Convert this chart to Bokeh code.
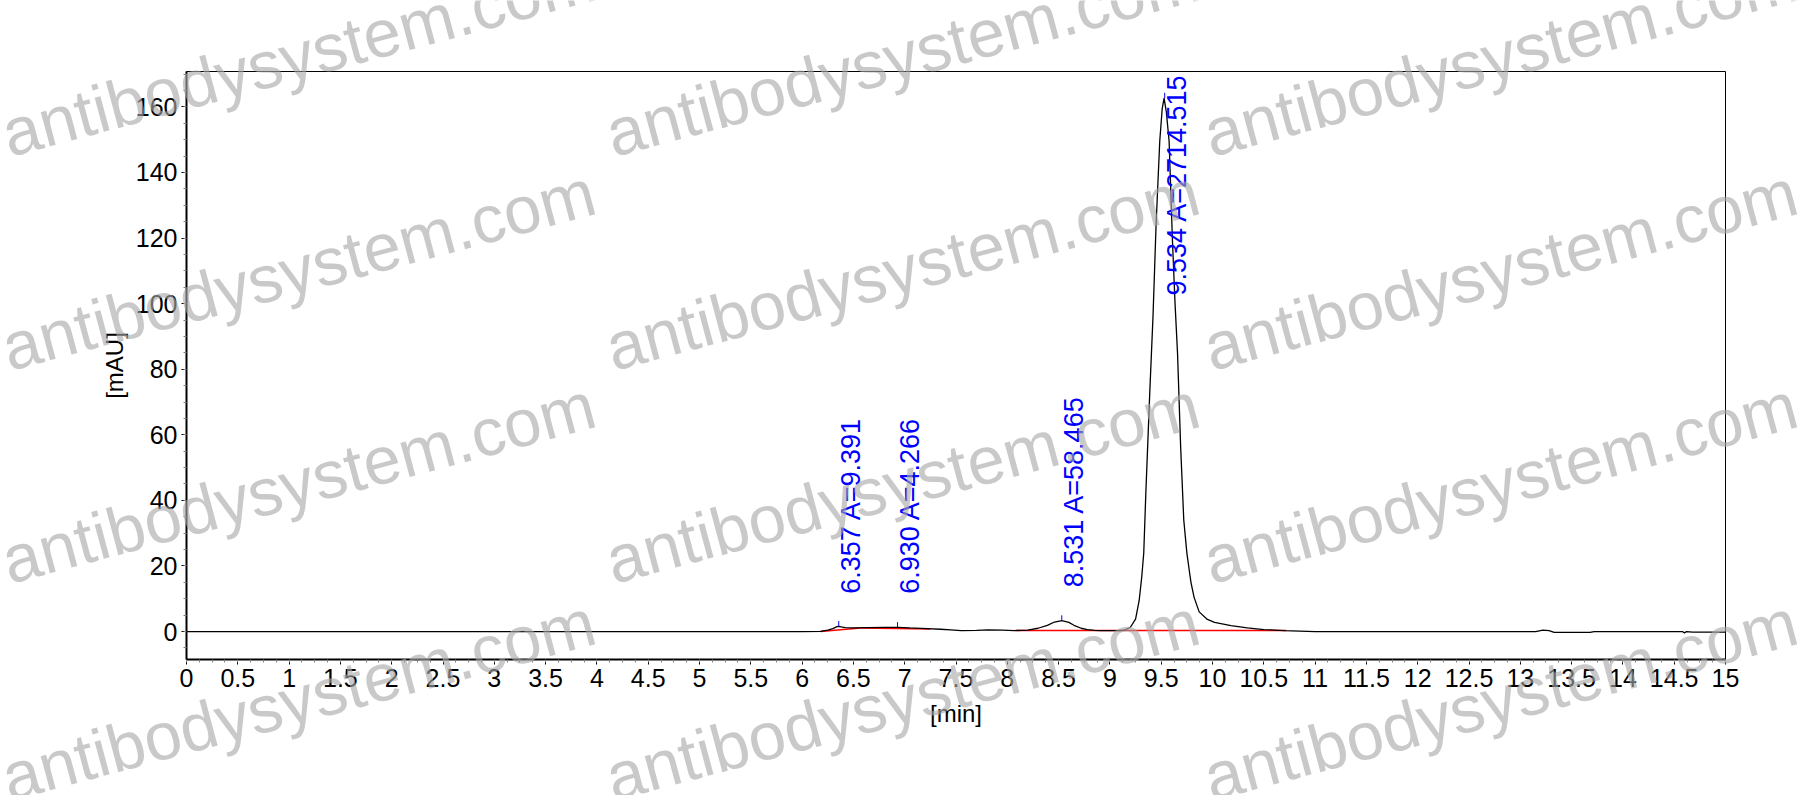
from math import pi
from bokeh.plotting import figure
from bokeh.models import Range1d, FixedTicker, ColumnDataSource
from bokeh.core.properties import value
from bokeh.embed import file_html
from bokeh.resources import INLINE

# ---------------- data ----------------
time_min = [0.0, 6.00, 6.18, 6.25, 6.30, 6.34, 6.357, 6.38, 6.42, 6.50, 6.65, 6.80, 6.93,
            7.05, 7.22, 7.35, 7.45, 7.55, 7.70, 7.81, 7.95, 8.07, 8.20, 8.30, 8.39, 8.46,
            8.531, 8.60, 8.65, 8.72, 8.78, 8.85, 8.91, 9.00, 9.10, 9.14, 9.20, 9.25, 9.285,
            9.31, 9.33, 9.35, 9.39, 9.42, 9.45, 9.486, 9.51, 9.528, 9.55, 9.577, 9.61,
            9.635, 9.659, 9.69, 9.72, 9.75, 9.772, 9.79, 9.82, 9.87, 9.95, 10.02, 10.18,
            10.34, 10.50, 10.70, 10.85, 11.00, 13.15, 13.22, 13.28, 13.33, 13.68, 13.72,
            14.58, 14.60, 14.62, 14.68, 15.00]
signal_mau = [0.0, 0.0, 0.05, 0.4, 0.9, 1.5, 1.6, 1.4, 1.2, 1.1, 1.2, 1.25, 1.25,
              1.1, 0.9, 0.7, 0.5, 0.3, 0.35, 0.5, 0.4, 0.3, 0.45, 1.0, 1.9, 2.9,
              3.35, 2.8, 1.9, 1.0, 0.6, 0.35, 0.3, 0.25, 0.3, 0.4, 1.3, 3.8, 9.4,
              16.5, 24.0, 42.0, 74.0, 96.0, 124.0, 149.6, 159.5, 162.7, 158.5, 149.6, 119.0,
              100.0, 85.0, 56.0, 34.0, 24.0, 19.0, 15.0, 10.5, 6.0, 3.7, 2.8, 1.8,
              1.1, 0.6, 0.3, 0.15, 0.0, 0.0, 0.4, 0.3, -0.25, -0.25, 0.0,
              0.0, -0.4, 0.0, -0.2, -0.2]

peak_times = [6.357, 6.930, 8.531, 9.534]
peak_areas = [9.391, 4.266, 58.465, 2714.515]
peak_heights = [1.6, 1.25, 3.35, 162.7]
label_base = [11.5, 11.5, 13.5, 102.5]

baseline_x0 = [6.18, 6.57, 8.08, 8.92]
baseline_y0 = [0.0, 1.1, 0.3, 0.3]
baseline_x1 = [6.57, 7.25, 8.92, 10.72]
baseline_y1 = [1.1, 0.75, 0.3, 0.3]

x_ticks = [0, 0.5, 1, 1.5, 2, 2.5, 3, 3.5, 4, 4.5, 5, 5.5, 6, 6.5, 7, 7.5, 8, 8.5, 9, 9.5,
           10, 10.5, 11, 11.5, 12, 12.5, 13, 13.5, 14, 14.5, 15]
x_tick_labels = ["0", "0.5", "1", "1.5", "2", "2.5", "3", "3.5", "4", "4.5", "5", "5.5",
                 "6", "6.5", "7", "7.5", "8", "8.5", "9", "9.5", "10", "10.5", "11", "11.5",
                 "12", "12.5", "13", "13.5", "14", "14.5", "15"]
y_ticks = [0, 20, 40, 60, 80, 100, 120, 140, 160]
y_tick_labels = ["0", "20", "40", "60", "80", "100", "120", "140", "160"]

watermark_text = "antibodysystem.com"
wm_cols_px = [3, 607, 1205]
wm_rows_px = [134, 348, 561, 778]

# ---------------- main figure ----------------
FONT = "Liberation Sans"
W, H = 1800, 795
FL, FT, FW, FH = 186, 71, 1539, 588   # frame offsets inside the canvas and frame size

p = figure(width=W, height=H, output_backend="svg", toolbar_location=None,
           x_range=Range1d(0, 15), y_range=Range1d(-8.53, 170.8),
           min_border_left=FL, min_border_top=FT,
           min_border_right=W - FL - FW, min_border_bottom=H - FT - FH)
p.background_fill_color = "white"
p.border_fill_color = "white"
p.outline_line_color = "black"
p.outline_line_width = 1
p.xgrid.visible = False
p.ygrid.visible = False

minor_x = [i * 0.125 for i in range(121)]
minor_y = [-5 + i * 5 for i in range(36)]
p.xaxis.ticker = FixedTicker(ticks=x_ticks, minor_ticks=minor_x)
p.yaxis.ticker = FixedTicker(ticks=y_ticks, minor_ticks=minor_y)
p.xaxis.major_label_overrides = {t: s for t, s in zip(x_ticks, x_tick_labels)}
p.yaxis.major_label_overrides = {t: s for t, s in zip(y_ticks, y_tick_labels)}

for ax in (p.xaxis[0], p.yaxis[0]):
    ax.axis_line_width = 2
    ax.axis_line_color = "black"
    ax.major_tick_in = 0
    ax.major_tick_out = 5
    ax.minor_tick_in = 0
    ax.minor_tick_out = 3
    ax.major_tick_line_color = "black"
    ax.minor_tick_line_color = "#808080"
    ax.major_label_text_font = FONT
    ax.major_label_text_font_size = "25px"
    ax.major_label_text_color = "black"
    ax.axis_label_text_font = FONT
    ax.axis_label_text_font_size = "24px"
    ax.axis_label_text_font_style = "normal"
    ax.axis_label_text_color = "black"
    ax.major_label_standoff = 4

p.xaxis.axis_label = "[min]"
p.yaxis.axis_label = "[mAU]"
p.xaxis.axis_label_standoff = 10
p.yaxis.axis_label_standoff = 5

# integration baselines
p.segment(x0=baseline_x0, y0=baseline_y0, x1=baseline_x1, y1=baseline_y1,
          line_color="red", line_width=1.5)

# chromatogram
p.line(time_min, signal_mau, line_color="black", line_width=1.3)

# peak apex marks and labels
p.segment(x0=peak_times, y0=peak_heights, x1=peak_times, y1=[h + 1.6 for h in peak_heights],
          line_color="blue", line_width=1)
labels = ["%.3f A=%.3f" % (t, a) for t, a in zip(peak_times, peak_areas)]
src = ColumnDataSource(dict(x=peak_times, y=label_base, text=labels))
p.text(x="x", y="y", text="text", source=src, angle=pi / 2, text_align="left",
       text_baseline="top", text_color="blue", text_font=value(FONT),
       text_font_size="27px", x_offset=-3)

# ---------------- transparent watermark layer laid over the chart ----------------
wm = figure(width=W, height=H, output_backend="svg", toolbar_location=None,
            x_range=Range1d(0, W), y_range=Range1d(0, H),
            x_axis_type=None, y_axis_type=None,
            min_border=0, min_border_left=0, min_border_right=0,
            min_border_top=0, min_border_bottom=0)
wm.outline_line_color = None
wm.background_fill_alpha = 0
wm.border_fill_alpha = 0
wm.xgrid.visible = False
wm.ygrid.visible = False
wx = [cx for cx in wm_cols_px for ry in wm_rows_px]
wy = [H - ry for cx in wm_cols_px for ry in wm_rows_px]
wm.text(x=wx, y=wy, text=[watermark_text] * len(wx), angle=15 * pi / 180,
        text_align="left", text_baseline="alphabetic", text_font=value(FONT),
        text_font_size="67px", text_color="#a8a8a8", text_alpha=0.62)
wm.styles = {"position": "absolute", "left": "0px", "top": "0px"}

open("out.html", "w").write(file_html([p, wm], INLINE))
